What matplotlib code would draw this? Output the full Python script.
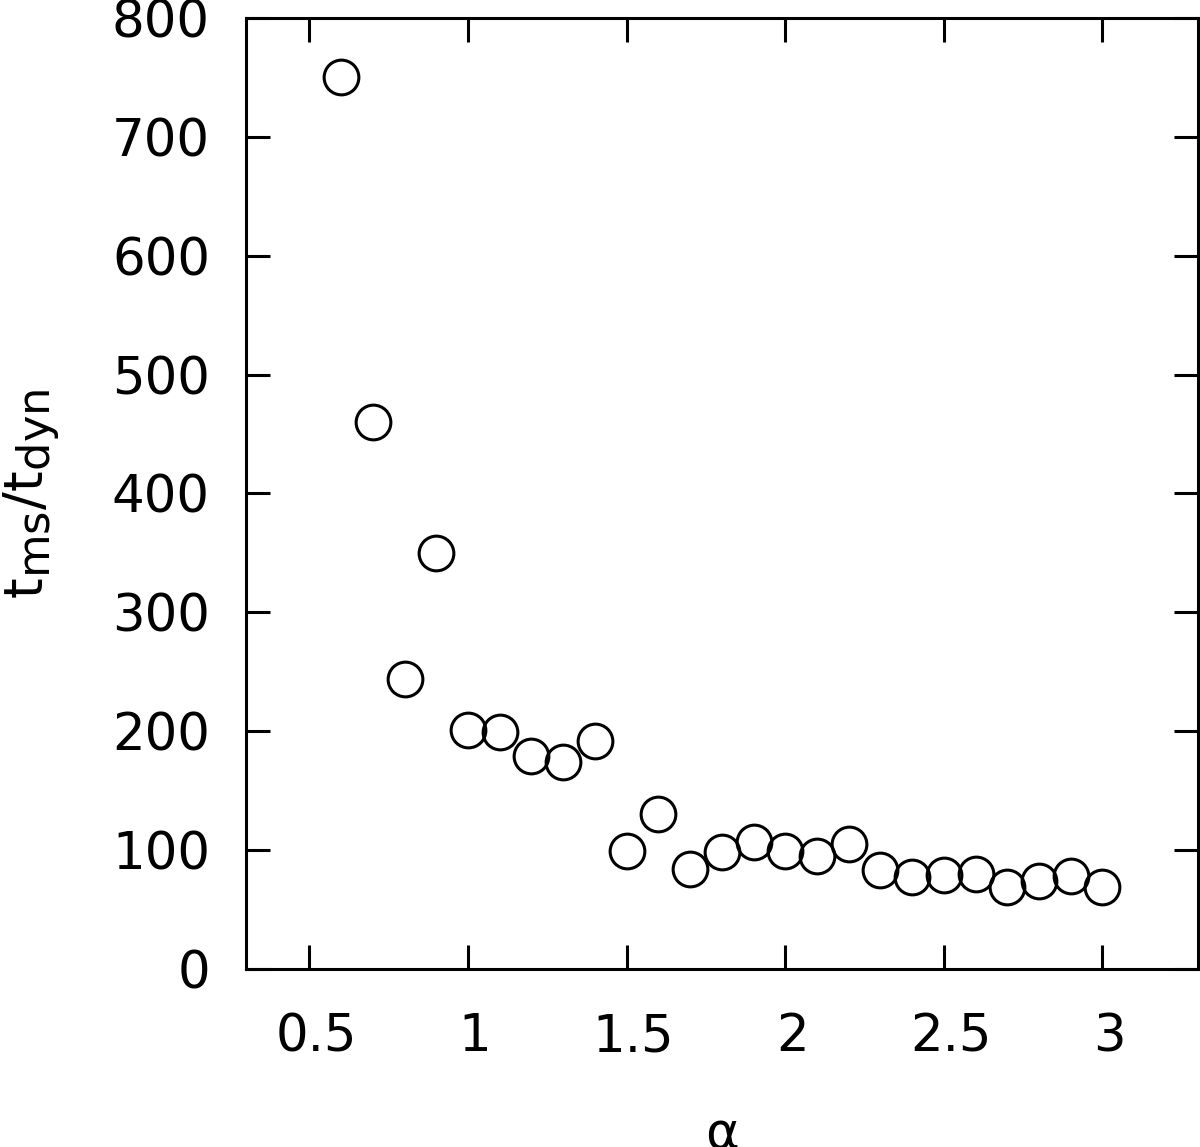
import matplotlib
matplotlib.use("Agg")
import matplotlib.pyplot as plt
import matplotlib.transforms as mtransforms
try:
    import matplotlib._mathtext as _mt
    _mt.SHRINK_FACTOR = 0.85
except Exception:
    pass

alpha = [0.6, 0.7, 0.8, 0.9, 1.0, 1.1, 1.2, 1.3, 1.4, 1.5, 1.6, 1.7, 1.8,
         1.9, 2.0, 2.1, 2.2, 2.3, 2.4, 2.5, 2.6, 2.7, 2.8, 2.9, 3.0]
ratio = [750, 460, 244, 350, 201, 199, 179, 174, 192, 99, 130, 84, 98,
         107, 99, 95, 105, 83, 77, 79, 80, 69, 74, 78, 69]
xticks = [0.5, 1, 1.5, 2, 2.5, 3]
xticklabels = ["0.5", "1", "1.5", "2", "2.5", "3"]
yticks = [0, 100, 200, 300, 400, 500, 600, 700, 800]

plt.rcParams['mathtext.fontset'] = 'dejavusans'
fig = plt.figure(figsize=(12, 11.47), dpi=100)
ax = fig.add_axes([0.205, 0.1552, 0.793, 0.8291])
ax.plot(alpha, ratio, linestyle='none', marker='o', markersize=25,
        markerfacecolor='none', markeredgecolor='black', markeredgewidth=2.2,
        clip_on=False)
ax.set_xlim(0.3, 3.3)
ax.set_ylim(0, 800)
ax.set_xticks(xticks)
ax.set_xticklabels(xticklabels)
ax.set_yticks(yticks)
for s in ax.spines.values():
    s.set_linewidth(2.2)
ax.tick_params(axis='both', direction='in', length=17, width=2.2,
               labelsize=37, top=True, right=True)
ax.tick_params(axis='x', pad=31)
ax.tick_params(axis='y', pad=26)
off = mtransforms.ScaledTranslation(7 / 100, 0, fig.dpi_scale_trans)
for lab in ax.get_xticklabels():
    lab.set_transform(lab.get_transform() + off)
ax.set_xlabel(r'$\mathrm{\alpha}$', fontsize=37, labelpad=34)
ax.set_ylabel(r'$\mathrm{t_{ms}/t_{dyn}}$', fontsize=38, labelpad=36)
fig.savefig('out.png', dpi=100)
